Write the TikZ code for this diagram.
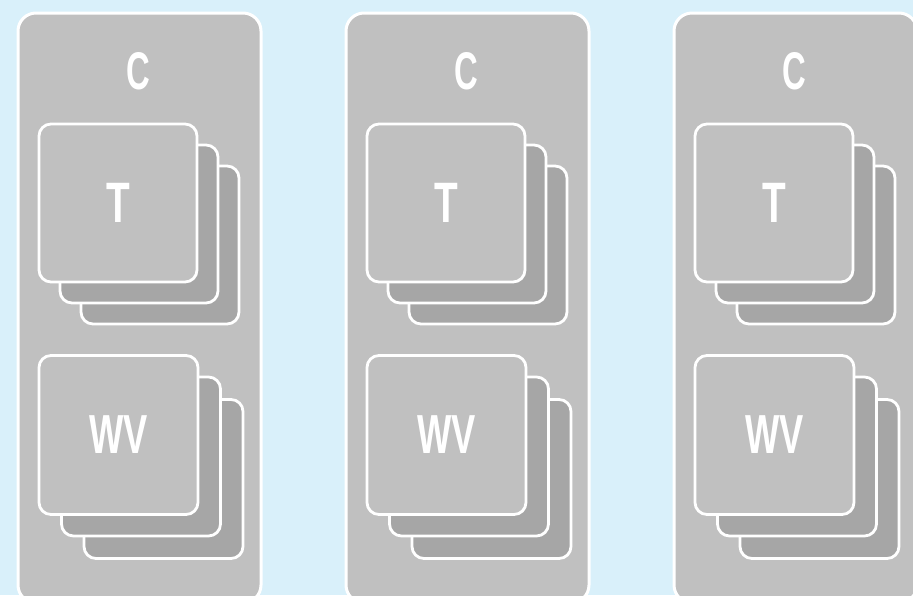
\documentclass[tikz,border=0pt]{standalone}
\usepackage{fontspec}
\setmainfont{Liberation Sans}
\definecolor{bgblue}{RGB}{217,240,250}
\definecolor{colgray}{RGB}{192,192,192}
\definecolor{backgray}{RGB}{166,166,166}
\begin{document}
\begin{tikzpicture}[x=1pt,y=-1pt,
  colbox/.style={draw=white, line width=3pt, fill=colgray, rounded corners=18pt,
    minimum width=243pt, minimum height=590pt, inner sep=0pt, outer sep=0pt},
  card/.style={draw=white, line width=2.8pt, rounded corners=12pt, inner sep=0pt, outer sep=0pt,
    minimum width=158pt, minimum height=158pt},
  wcard/.style={card, minimum width=159pt, minimum height=159pt},
  backcard/.style={fill=backgray},
  frontcard/.style={fill=colgray, text=white},
  lbl/.style={text=white, inner sep=0pt},
]
\fill[bgblue] (0,0) rectangle (913,595);
\useasboundingbox (0,0) rectangle (913,595);
\clip (0,0) rectangle (913,595);
\foreach \i/\ox in {1/0,2/328,3/656}{
  \node[colbox] (col\i) at (\ox+139.5,308) {};
  \node[lbl, font=\fontsize{53}{53}\selectfont\bfseries] (c\i) at (\ox+138.5,71) {\scalebox{0.62}[1]{C}};
  % T stack
  \node[card, backcard] (t\i c) at (\ox+160,245) {};
  \node[card, backcard] (t\i b) at (\ox+139,224) {};
  \node[card, frontcard, font=\fontsize{57}{57}\selectfont\bfseries] (t\i a) at (\ox+118,203) {\scalebox{0.68}[1]{T}};
  % WV stack
  \node[wcard, backcard] (w\i c) at (\ox+163.5,479) {};
  \node[wcard, backcard] (w\i b) at (\ox+141,456.5) {};
  \node[wcard, frontcard, font=\fontsize{55}{55}\selectfont\bfseries] (w\i a) at (\ox+118.5,435) {\scalebox{0.66}[1]{WV}};
}
\end{tikzpicture}
\end{document}
